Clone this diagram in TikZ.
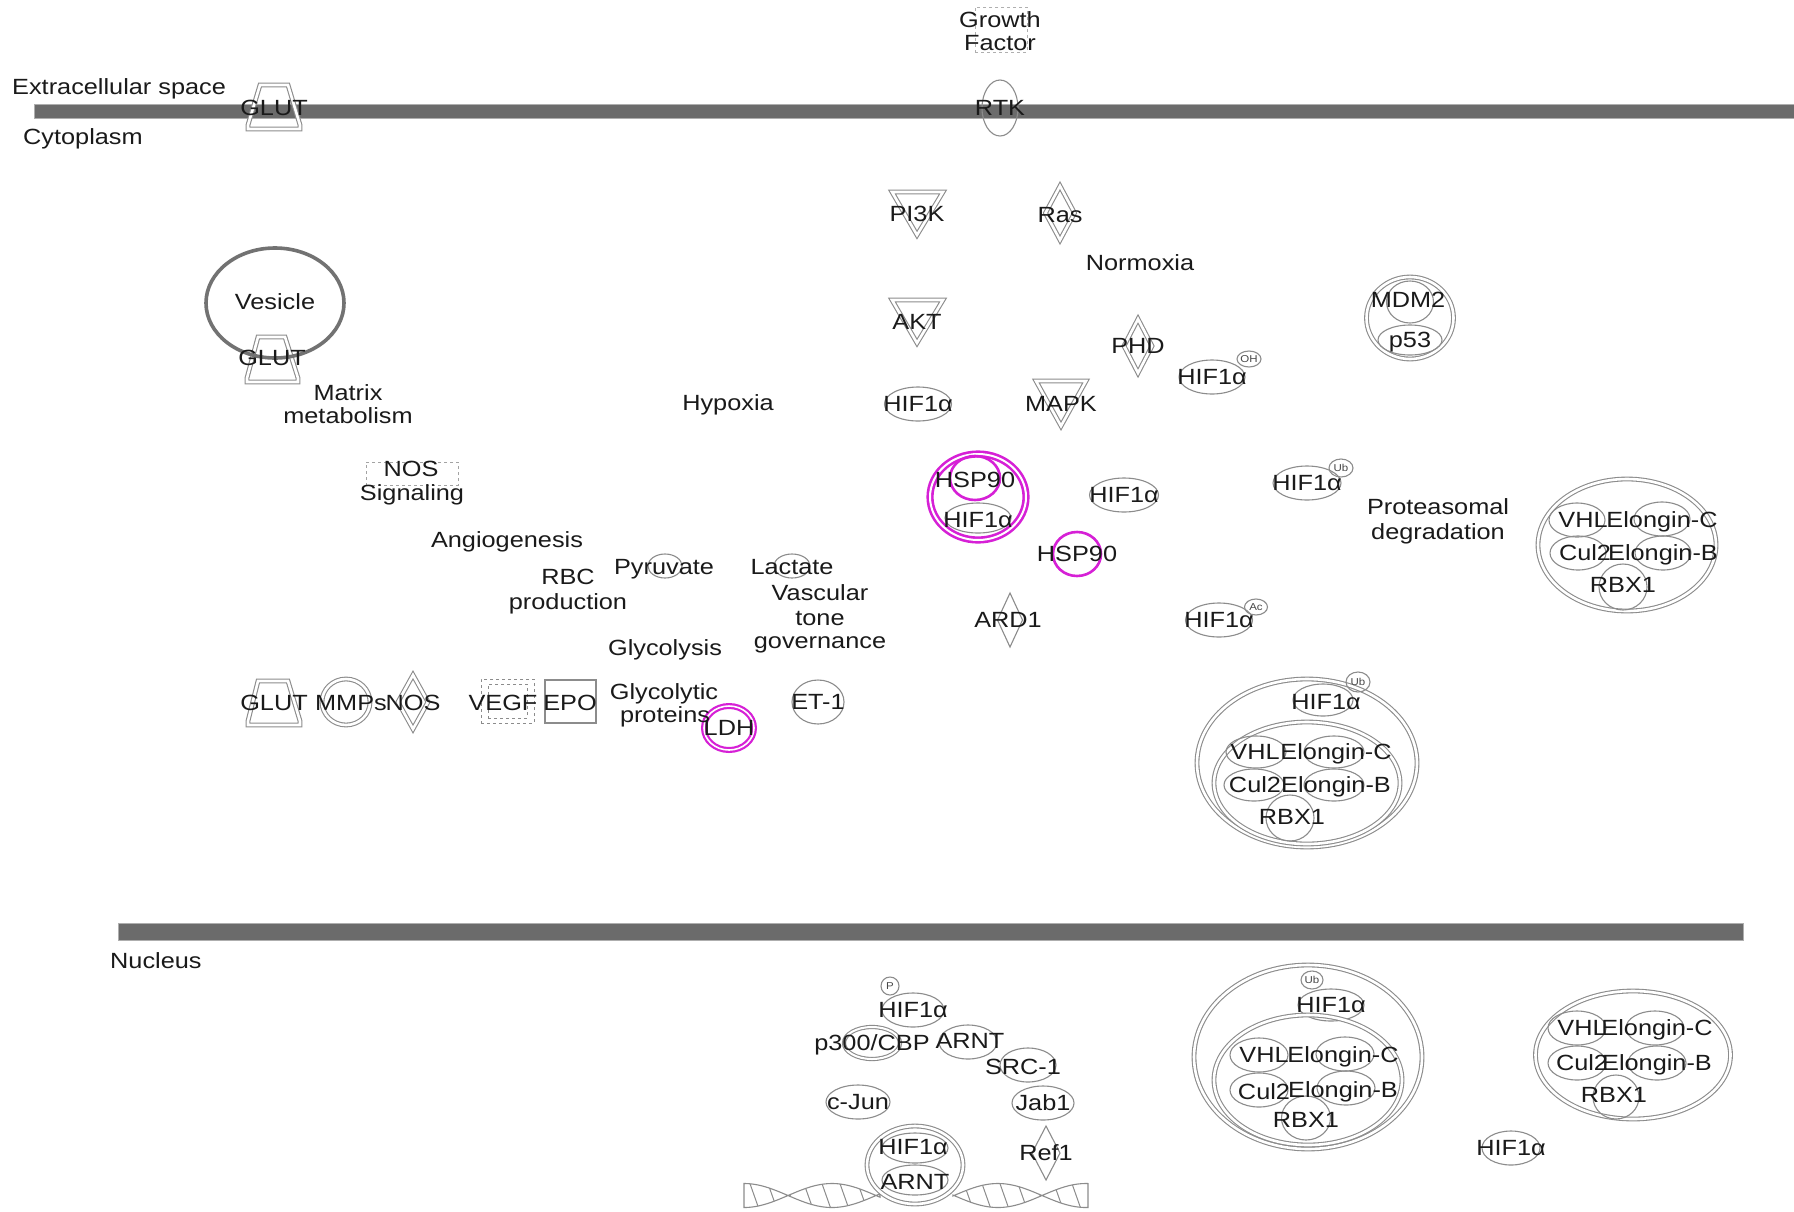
\documentclass[tikz,border=0pt]{standalone}
\usepackage{fontspec}
\usetikzlibrary{shapes.geometric}
\newfontfamily\labfam[FakeStretch=1.15]{Liberation Sans}
\definecolor{ink}{HTML}{1A1A1A}
\definecolor{shp}{HTML}{8C8C8C}
\definecolor{mem}{HTML}{6B6B6B}
\definecolor{mag}{HTML}{D620D6}
\newcommand\labfont{\labfam\fontsize{22}{24}\selectfont}
\newcommand\tagfont{\labfam\fontsize{10}{11}\selectfont}

\tikzset{
  sh/.style={draw=shp, line width=1.1pt},
  dbl/.style={double=white, double distance=2.6pt},
  ov/.style={sh, ellipse, inner sep=0pt, outer sep=0pt},
  lb/.style={font=\labfont, text=ink, inner sep=0pt, text height=15.5pt, text depth=0pt},
  tg/.style={font=\tagfont, text=ink!80, inner sep=0pt},
  mg/.style={draw=mag, line width=2.6pt},
  tri/.style={sh, dbl, line join=miter},
  dia/.style={sh, diamond, inner sep=0pt, outer sep=0pt},
  membrane/.style={fill=mem, draw=mem!55, line width=1pt},
}

% oval: [options]{name}{x}{y}{width}{height}
\newcommand\myoval[6][]{\node[ov,minimum width=#5pt,minimum height=#6pt,#1] (#2) at (#3,#4) {};}
% label: [options]{name}{x,y}{text}
\newcommand\mylabel[4][]{\node[lb,#1] (#2) at (#3) {#4};}

\begin{document}
\begin{tikzpicture}[x=1pt,y=-1pt]
\useasboundingbox (0,0) rectangle (1794,1211);
\fill[white] (0,0) rectangle (1794,1211);

% ---------- membranes ----------
\draw[membrane] (34,104) rectangle (1794,118);
\draw[membrane] (118,923) rectangle (1743,940);
\node[lb,anchor=west] (extra) at (12,87) {Extracellular space};
\node[lb,anchor=west] (cyto) at (23,137) {Cytoplasm};
\node[lb,anchor=west] (nucl) at (110,961) {Nucleus};

% ---------- DNA ribbon ----------
\begin{scope}
  \clip plot[domain=744:880,samples=60] (\x,{1195.5-12*cos((\x-744)/88*180)})
     -- plot[domain=880:744,samples=60] (\x,{1195.5+12*cos((\x-744)/88*180)}) -- cycle;
  \foreach \k in {712,730,...,890} \draw[shp, line width=1pt] (\k,1178) -- ++(12,34);
\end{scope}
\draw[sh] plot[domain=744:880,samples=60] (\x,{1195.5-12*cos((\x-744)/88*180)})
     -- plot[domain=880:744,samples=60] (\x,{1195.5+12*cos((\x-744)/88*180)}) -- cycle;
\begin{scope}
  \clip plot[domain=953:1088,samples=60] (\x,{1195.5-12*cos((\x-1086)/88*180)})
     -- plot[domain=1088:953,samples=60] (\x,{1195.5+12*cos((\x-1086)/88*180)}) -- cycle;
  \foreach \k in {926,944,...,1100} \draw[shp, line width=1pt] (\k,1178) -- ++(12,34);
\end{scope}
\draw[sh] plot[domain=953:1088,samples=60] (\x,{1195.5-12*cos((\x-1086)/88*180)})
     -- plot[domain=1088:953,samples=60] (\x,{1195.5+12*cos((\x-1086)/88*180)}) -- cycle;

% ---------- transporters (GLUT) ----------
\draw[tri] (248,129) -- (248,125) -- (260,85) -- (288,85) -- (300,125) -- (300,129) -- cycle;
\draw[tri] (247,382) -- (247,378) -- (258,337) -- (285,337) -- (298,378) -- (298,382) -- cycle;
\draw[tri] (248,725) -- (248,721) -- (258,681) -- (288,681) -- (300,721) -- (300,725) -- cycle;

% ---------- vesicle ----------
\node[ellipse, draw=mem!95, line width=3.6pt, minimum width=138pt, minimum height=110pt, inner sep=0pt] (vesicle) at (275,303) {};

% ---------- growth factor / receptor ----------
\node[draw=shp!70, dashed, line width=0.8pt, minimum width=52pt, minimum height=45pt, inner sep=0pt] (gfbox) at (1001,29.5) {};
\myoval{rtk}{1000}{108}{36}{56}

% ---------- kinases ----------
\draw[tri] (892,192) -- (943,192) -- (917,235) -- cycle;
\draw[tri] (892,300) -- (943,300) -- (917,343) -- cycle;
\draw[tri] (1036,381) -- (1086,381) -- (1061,426) -- cycle;
\node[dia, dbl, minimum width=29pt, minimum height=54pt] (ras) at (1060,213) {};
\node[dia, dbl, minimum width=28pt, minimum height=54pt] (phd) at (1138,346) {};
\node[dia, minimum width=25pt, minimum height=54pt] (ard) at (1010,620) {};
\node[dia, dbl, minimum width=30pt, minimum height=54pt] (nos) at (413,702) {};
\node[dia, minimum width=28pt, minimum height=54pt] (ref) at (1046,1153) {};

% ---------- cytoplasmic proteins ----------
\myoval{hifA}{918}{404}{67}{34}
\myoval{hifOH}{1212}{377}{66}{34}
\myoval{tOH}{1249}{359}{24}{16}
\myoval[dbl]{mdmcx}{1410}{318}{87}{82}
\myoval{mdm}{1410}{302}{47}{42}
\myoval{pff}{1410}{340}{64}{30}

\myoval[mg,dbl,double distance=2pt]{hspcx}{978}{497}{96}{86}
\myoval[mg]{hspin}{975}{478}{50}{44}
\myoval{hifin}{978}{518}{66}{30}
\myoval{hifB}{1124}{495}{69}{34}
\myoval[mg]{hspB}{1077}{554}{48}{44}
\myoval{hifUb}{1307}{483}{68}{34}
\myoval{tUb}{1341}{468}{24}{18}
\myoval{hifAc}{1219}{620}{67}{34}
\myoval{tAc}{1256}{607}{23}{16}

% VHL complex (cytoplasm, right)
\myoval[dbl]{vcxA}{1627}{545}{178}{132}
\myoval{vhlA}{1577}{520}{56}{34}
\myoval{elcA}{1662}{519}{56}{34}
\myoval{culA}{1578}{553}{56}{34}
\myoval{elbA}{1663}{553}{56}{34}
\myoval{rbxA}{1623}{587}{48}{46}

% HIF1a-Ub bound to VHL complex (cytoplasm)
\myoval[dbl]{bigA}{1307}{763}{220}{168}
\myoval[dbl]{vcxB}{1307}{783}{186}{122}
\myoval{hifC}{1323}{700}{60}{32}
\myoval{tUbB}{1358}{682}{24}{20}
\myoval{vhlB}{1256}{752}{60}{32}
\myoval{elcB}{1334}{752}{60}{32}
\myoval{culB}{1254}{785}{60}{32}
\myoval{elbB}{1334}{785}{60}{32}
\myoval{rbxB}{1290}{818}{48}{46}

% ---------- left: targets ----------
\node[draw=shp!80, dashed, line width=0.9pt, minimum width=92pt, minimum height=23pt, inner sep=0pt] (nosbox) at (412,473.5) {};
\myoval{pyr}{665}{566}{34}{24}
\myoval{lac}{792}{566}{36}{24}
\myoval[mg,dbl,line width=2.2pt,double distance=1.6pt]{ldh}{729}{728}{50}{44}
\myoval{et}{818}{702}{52}{44}
\myoval[dbl]{mmp}{346}{702}{48}{46}
\node[draw=shp, dashed, line width=0.9pt, minimum width=53pt, minimum height=44pt, inner sep=0pt] (vegfo) at (507.5,701) {};
\node[draw=shp, dashed, line width=0.9pt, minimum width=39pt, minimum height=34pt, inner sep=0pt] (vegfi) at (507.5,701) {};
\node[sh, minimum width=51pt, minimum height=43pt, inner sep=0pt] (epo) at (570.5,701.5) {};

% ---------- nucleus ----------
\myoval{tP}{890}{986}{18}{18}
\myoval{hifN}{913}{1010}{62}{34}
\myoval[dbl,double distance=2pt]{p300}{872}{1043}{56}{32}
\myoval{arnt}{968}{1042}{58}{34}
\myoval{src}{1028}{1065}{56}{34}
\myoval{cjun}{858}{1102}{64}{34}
\myoval{jab}{1043}{1103}{62}{34}
\myoval[dbl,fill=white]{hacx}{915}{1165}{96}{78}
\myoval{hifD}{915}{1148}{66}{30}
\myoval{arntD}{915}{1180}{66}{30}

\myoval[dbl]{bigN}{1308}{1057}{228}{184}
\myoval{tUbN}{1312}{980}{22}{18}
\myoval{hifE}{1331}{1005}{66}{32}
\myoval[dbl]{vcxN}{1308}{1080}{188}{130}
\myoval{vhlN}{1259}{1055}{58}{34}
\myoval{elcN}{1345}{1054}{58}{34}
\myoval{culN}{1259}{1090}{58}{34}
\myoval{elbN}{1346}{1088}{58}{34}
\myoval{rbxN}{1306}{1118}{49}{44}

\myoval[dbl]{vcxR}{1633}{1055}{195}{128}
\myoval{vhlR}{1577}{1028}{58}{34}
\myoval{elcR}{1655}{1028}{58}{34}
\myoval{culR}{1577}{1063}{58}{34}
\myoval{elbR}{1657}{1063}{58}{34}
\myoval{rbxR}{1616}{1097}{46}{44}
\myoval{hifF}{1511}{1148}{58}{34}

% ---------- labels ----------
\mylabel{lglutA}{274,108}{GLUT}
\mylabel{lves}{275,302}{Vesicle}
\mylabel{lglutB}{272,358}{GLUT}
\mylabel{lmat1}{348,393}{Matrix}
\mylabel{lmat2}{348,416}{metabolism}
\mylabel{lgf1}{1000,20}{Growth}
\mylabel{lgf2}{1000,43}{Factor}
\mylabel{lrtk}{1000,108}{RTK}
\mylabel{lpi3k}{917,214}{PI3K}
\mylabel{lras}{1060,215}{Ras}
\mylabel{lnorm}{1140,263}{Normoxia}
\mylabel{lakt}{917,322}{AKT}
\mylabel{lphd}{1138,346}{PHD}
\mylabel{lhifOH}{1212,377}{HIF1α}
\node[tg] (ltOH) at (1249,359) {OH};
\mylabel{lmdm}{1408,300}{MDM2}
\mylabel{lp53}{1410,340}{p53}
\mylabel{lhyp}{728,403}{Hypoxia}
\mylabel{lhifA}{918,404}{HIF1α}
\mylabel{lmapk}{1061,404}{MAPK}

\mylabel{lhspin}{975,480}{HSP90}
\mylabel{lhifin}{978,520}{HIF1α}
\mylabel{lhifB}{1124,495}{HIF1α}
\mylabel{lhspB}{1077,554}{HSP90}
\mylabel{lhifUb}{1307,483}{HIF1α}
\node[tg] (ltUb) at (1341,468) {Ub};
\mylabel{lprot1}{1438,507}{Proteasomal}
\mylabel{lprot2}{1438,532}{degradation}
\mylabel{lvhlA}{1583,520}{VHL}
\mylabel{lelcA}{1662,520}{Elongin-C}
\mylabel{lculA}{1585,553}{Cul2}
\mylabel{lelbA}{1663,553}{Elongin-B}
\mylabel{lrbxA}{1623,585}{RBX1}
\mylabel{lard}{1008,620}{ARD1}
\mylabel{lhifAc}{1219,620}{HIF1α}
\node[tg] (ltAc) at (1256,607) {Ac};

\mylabel{lhifC}{1326,702}{HIF1α}
\node[tg] (ltUbB) at (1358,682) {Ub};
\mylabel{lvhlB}{1255,752}{VHL}
\mylabel{lelcB}{1336,752}{Elongin-C}
\mylabel{lculB}{1255,785}{Cul2}
\mylabel{lelbB}{1336,785}{Elongin-B}
\mylabel{lrbxB}{1292,817}{RBX1}

\mylabel{lnos1}{411,469}{NOS}
\mylabel{lnos2}{412,493}{Signaling}
\mylabel{langio}{507,540}{Angiogenesis}
\mylabel{lrbc1}{568,577}{RBC}
\mylabel{lrbc2}{568,602}{production}
\mylabel{lpyr}{664,567}{Pyruvate}
\mylabel{llac}{792,567}{Lactate}
\mylabel{lvas1}{820,593}{Vascular}
\mylabel{lvas2}{820,618}{tone}
\mylabel{lvas3}{820,641}{governance}
\mylabel{lglyc}{665,648}{Glycolysis}
\mylabel{lgp1}{664,692}{Glycolytic}
\mylabel{lgp2}{665,715}{proteins}
\mylabel{lldh}{729,728}{LDH}
\mylabel{let}{818,702}{ET-1}
\mylabel{lglutC}{274,703}{GLUT}
\mylabel{lmmp}{351,703}{MMPs}
\mylabel{lnos}{413,703}{NOS}
\mylabel{lvegf}{503,703}{VEGF}
\mylabel{lepo}{570,703}{EPO}

\node[tg] (ltP) at (890,986) {P};
\mylabel{lhifN}{913,1010}{HIF1α}
\mylabel{lp300}{872,1043}{p300/CBP}
\mylabel{larnt}{970,1041}{ARNT}
\mylabel{lsrc}{1023,1067}{SRC-1}
\mylabel{lcjun}{858,1102}{c-Jun}
\mylabel{ljab}{1043,1103}{Jab1}
\mylabel{lhifD}{913,1147}{HIF1α}
\mylabel{larntD}{915,1182}{ARNT}
\mylabel{lref}{1046,1153}{Ref1}

\node[tg] (ltUbN) at (1312,980) {Ub};
\mylabel{lhifE}{1331,1005}{HIF1α}
\mylabel{lvhlN}{1264,1055}{VHL}
\mylabel{lelcN}{1343,1055}{Elongin-C}
\mylabel{lculN}{1264,1092}{Cul2}
\mylabel{lelbN}{1343,1090}{Elongin-B}
\mylabel{lrbxN}{1306,1120}{RBX1}

\mylabel{lvhlR}{1582,1028}{VHL}
\mylabel{lelcR}{1657,1028}{Elongin-C}
\mylabel{lculR}{1582,1063}{Cul2}
\mylabel{lelbR}{1657,1063}{Elongin-B}
\mylabel{lrbxR}{1614,1095}{RBX1}
\mylabel{lhifF}{1511,1148}{HIF1α}
\end{tikzpicture}
\end{document}
